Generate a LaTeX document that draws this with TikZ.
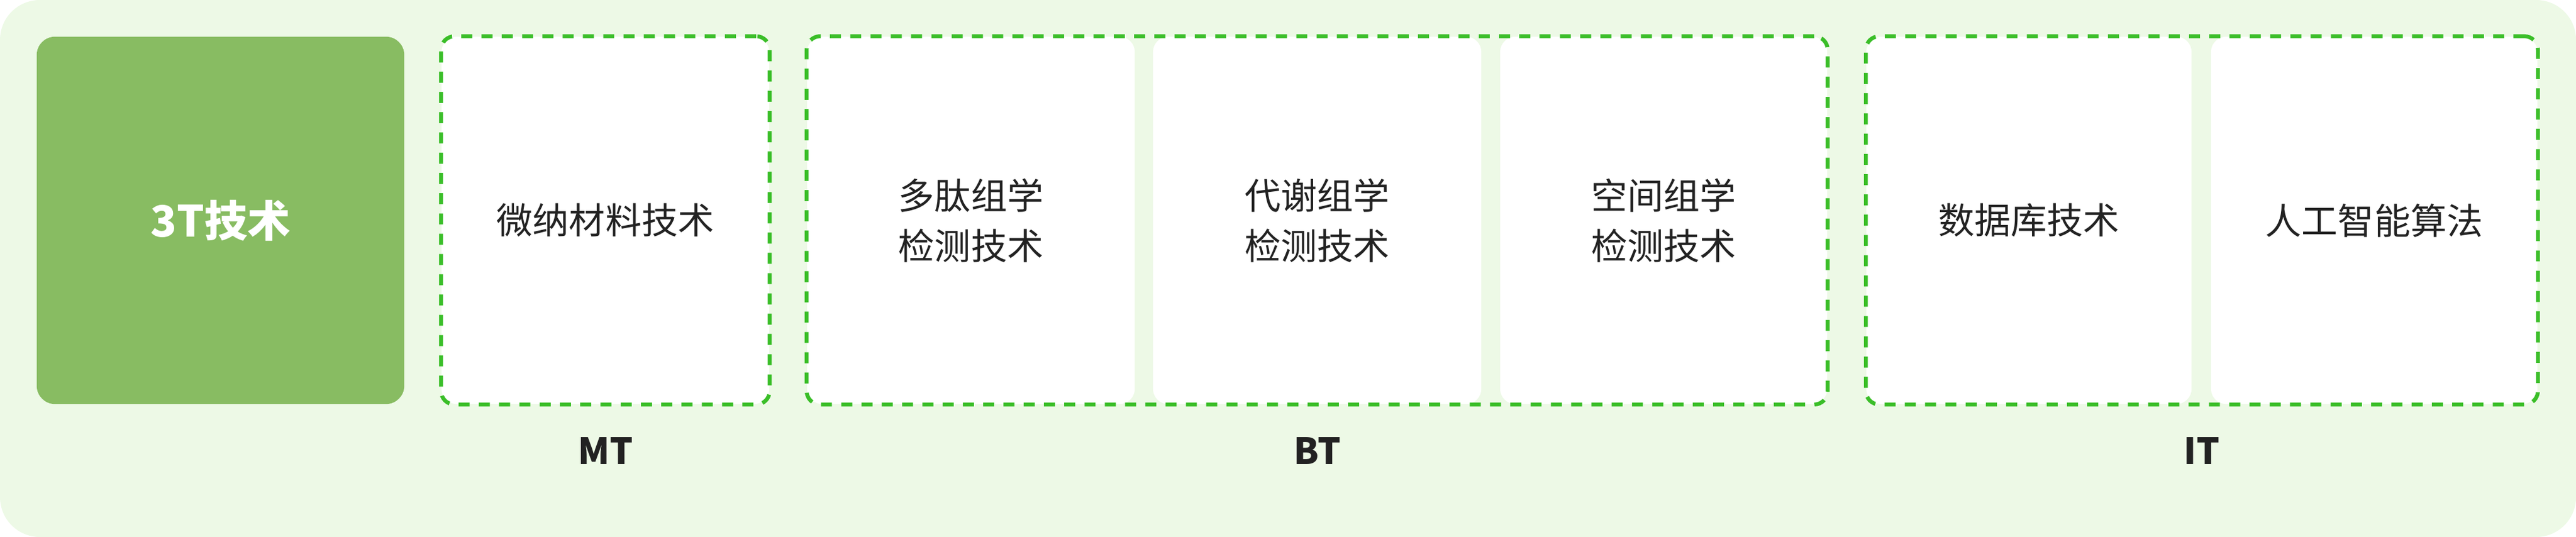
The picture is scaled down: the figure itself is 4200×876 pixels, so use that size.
\documentclass[tikz,border=0pt]{standalone}
\usepackage{fontspec}
\setmainfont{Noto Sans CJK SC}
\usetikzlibrary{fit}
\definecolor{bgc}{RGB}{237,249,230}
\definecolor{mainc}{RGB}{136,188,98}
\definecolor{dashc}{RGB}{58,190,40}
\definecolor{txtc}{RGB}{34,34,34}
\begin{document}
\begin{tikzpicture}[x=0.01cm,y=-0.01cm,
  cell/.style={fill=white, rounded corners=0.25cm, minimum height=5.99cm, inner sep=0pt,
    text=txtc, align=center, font=\fontsize{16.8pt}{23.3pt}\selectfont},
  mainbox/.style={fill=mainc, rounded corners=0.3cm, minimum width=5.99cm, minimum height=5.99cm,
    inner sep=0pt, text=white, font=\fontsize{20pt}{24pt}\selectfont\bfseries},
  group/.style={draw=dashc, line width=1.8pt, dash pattern=on 5.1pt off 4.3pt,
    rounded corners=0.22cm, inner sep=0pt},
  lbl/.style={text=txtc, inner sep=0pt, font=\fontsize{16.8pt}{20pt}\selectfont\bfseries}]
\useasboundingbox (0,0) rectangle (4200,876);
\fill[bgc, rounded corners=0.65cm] (0,0) rectangle (4200,876);

\node[mainbox] (t3) at (359.5,359.5) {3T技术};

\node[cell, minimum width=5.34cm] (mt1) at (987,359.5) {微纳材料技术};
\node[group, fit=(mt1)] (mtg) {};

\node[cell, minimum width=5.34cm] (bt1) at (1583,359.5) {多肽组学\\检测技术};
\node[cell, minimum width=5.35cm] (bt2) at (2147.5,359.5) {代谢组学\\检测技术};
\node[cell, minimum width=5.33cm] (bt3) at (2712.5,359.5) {空间组学\\检测技术};
\node[group, fit=(bt1)(bt2)(bt3)] (btg) {};

\node[cell, minimum width=5.30cm] (it1) at (3308,359.5) {数据库技术};
\node[cell, minimum width=5.32cm] (it2) at (3871,359.5) {人工智能算法};
\node[group, fit=(it1)(it2)] (itg) {};

\node[lbl] (mtl) at (987,735) {MT};
\node[lbl] (btl) at (2147.5,735) {BT};
\node[lbl] (itl) at (3590,735) {IT};
\end{tikzpicture}
\end{document}
